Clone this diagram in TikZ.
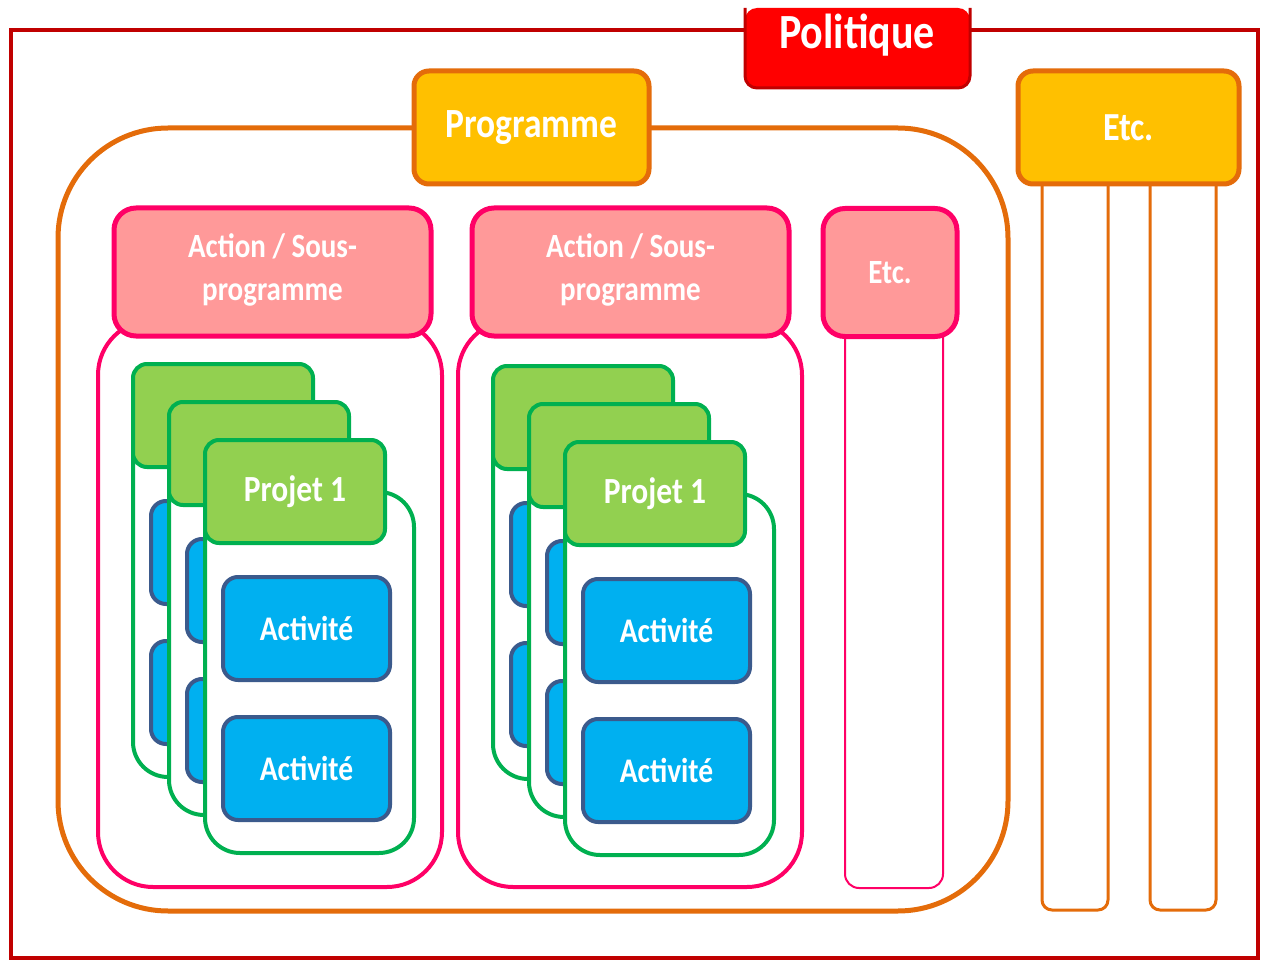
\documentclass[tikz,border=0pt]{standalone}
\usepackage{fontspec}
\setmainfont{Carlito}
\definecolor{polline}{HTML}{C00000}
\definecolor{polfill}{HTML}{FF0000}
\definecolor{progline}{HTML}{E46C0A}
\definecolor{progfill}{HTML}{FFC000}
\definecolor{actline}{HTML}{FF0066}
\definecolor{actfill}{HTML}{FF9999}
\definecolor{projline}{HTML}{00B050}
\definecolor{projfill}{HTML}{92D050}
\definecolor{activline}{HTML}{3B5A8C}
\definecolor{activfill}{HTML}{00B0F0}
\newcommand\haut[1]{\scalebox{1}[1.17]{#1}}
\begin{document}
\begin{tikzpicture}[x=1pt,y=-1pt,
  lbl/.style={inner sep=0pt,text=white,font=\bfseries,align=center},
  poltxt/.style={lbl,anchor=base,font=\bfseries\fontsize{42}{44}\selectfont},
  progbox/.style={lbl,draw=progline,fill=progfill,line width=5pt,rounded corners=15pt,
    minimum width=235pt,minimum height=113pt,font=\bfseries\fontsize{35.5}{37}\selectfont},
  progcont/.style={draw=progline,line width=5pt,rounded corners=110pt},
  progcol/.style={draw=progline,line width=3pt,rounded corners=10pt},
  actbox/.style={lbl,draw=actline,fill=actfill,line width=5pt,rounded corners=22pt,
    minimum width=317pt,minimum height=128pt,font=\bfseries\fontsize{29}{31}\selectfont},
  actcont/.style={draw=actline,line width=4pt,rounded corners=55pt},
  actcol/.style={draw=actline,line width=2pt,rounded corners=14pt},
  projbox/.style={lbl,draw=projline,fill=projfill,line width=4pt,rounded corners=14pt,
    minimum width=180pt,minimum height=103pt,font=\bfseries\fontsize{31.5}{33}\selectfont},
  projcont/.style={draw=projline,fill=white,line width=4pt,rounded corners=35pt},
  activbox/.style={lbl,draw=activline,fill=activfill,line width=4pt,rounded corners=15pt,
    minimum width=167pt,minimum height=103pt,font=\bfseries\fontsize{29.5}{31}\selectfont}]
\useasboundingbox (0,0) rectangle (1262,960);
\def\projet#1#2#3#4#5{
\draw[projcont] (#1,#2+52) rectangle (#1+209,#2+413);
\node[activbox] (#3a1) at (#1+101.5,#2+188.5) {\haut{#5}};
\node[activbox] (#3a2) at (#1+101.5,#2+328.5) {\haut{#5}};
\node[projbox] (#3) at (#1+90,#2+51.5) {\haut{#4}};
}
\draw[polline,line width=4pt] (11,30) rectangle (1258,958);
\fill[polfill,rounded corners=12pt] (745,8) -- (745,88) -- (970,88) -- (970,8) -- cycle;
\draw[polline,line width=3pt,rounded corners=12pt] (745,8) -- (745,88) -- (970,88) -- (970,8);
\node[poltxt] (pol) at (857,49) {\haut{Politique}};
\draw[progcont] (58,128) rectangle (1008,911);
\node[progbox] (prog) at (531.5,127.5) {\haut{Programme}};
\draw[progcol] (1042,170) rectangle (1108,910);
\draw[progcol] (1150,170) rectangle (1216,910);
\node[progbox,minimum width=221pt,font=\bfseries\fontsize{34}{36}\selectfont] (progetc) at (1128.5,127.5) {\haut{Etc.}};
\draw[actcont] (98,320) rectangle (442,887);
\node[actbox] (act1) at (272.5,272) {\haut{\begin{tabular}{@{}c@{}}Action / Sous-\\[6pt]programme\end{tabular}}};
\draw[actcont] (458,320) rectangle (802,887);
\node[actbox] (act2) at (630.5,272) {\haut{\begin{tabular}{@{}c@{}}Action / Sous-\\[6pt]programme\end{tabular}}};
\draw[actcol] (845,300) rectangle (943,888);
\node[actbox,minimum width=134pt,font=\bfseries\fontsize{29}{31}\selectfont] (actetc) at (890,272.5) {\haut{Etc.}};
\projet{133}{364}{pa}{}{}
\projet{169}{402}{pb}{}{}
\projet{205}{440}{pc}{Projet 1}{Activité}
\projet{493}{366}{qa}{}{}
\projet{529}{404}{qb}{}{}
\projet{565}{442}{qc}{Projet 1}{Activité}
\end{tikzpicture}
\end{document}
